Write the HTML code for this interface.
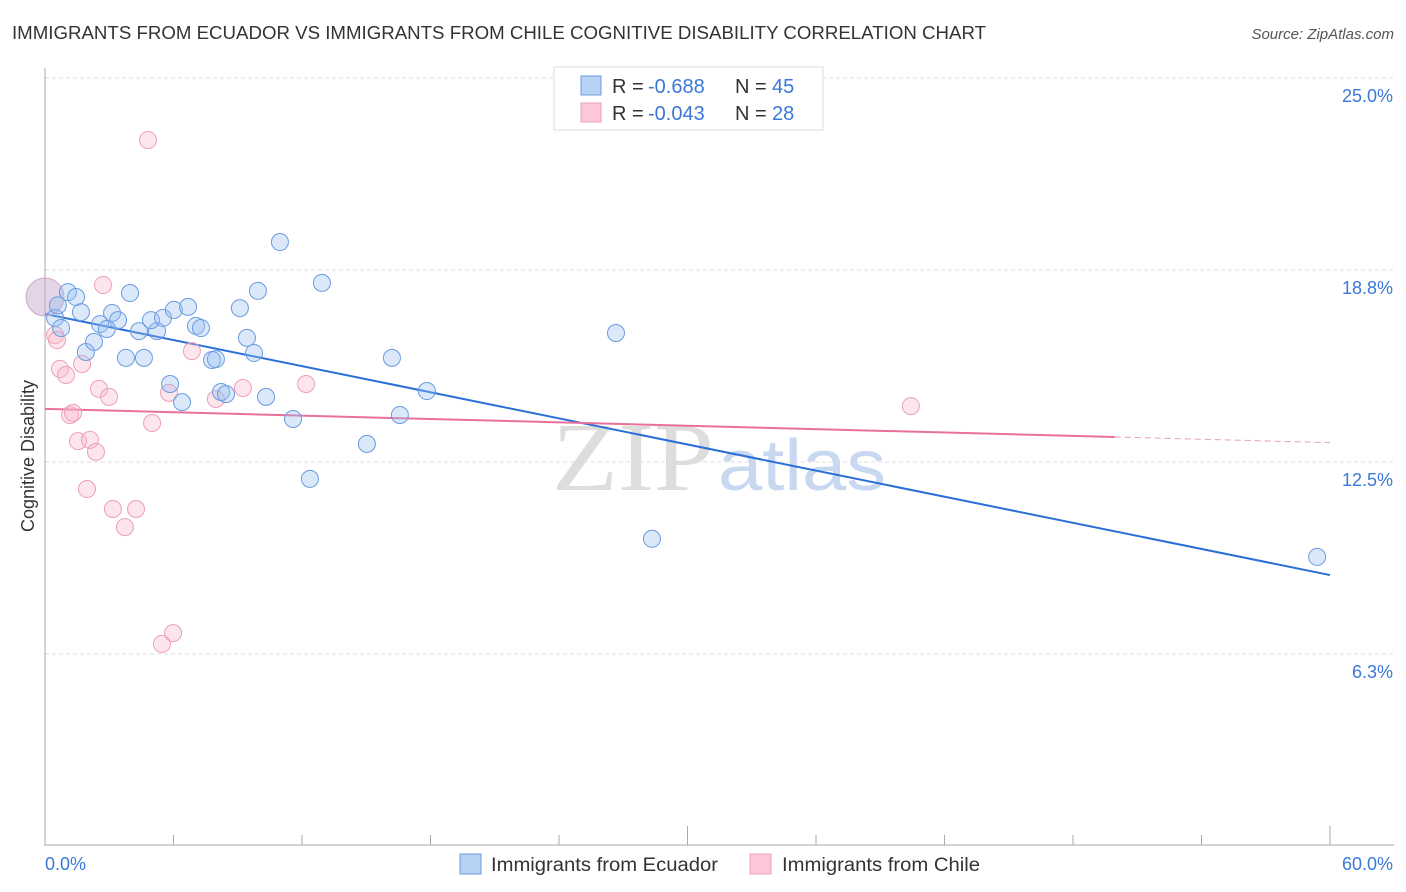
<!DOCTYPE html>
<html><head><meta charset="utf-8"><style>
body{margin:0;background:#fff;font-family:"Liberation Sans",sans-serif}
svg{display:block}
</style></head><body>
<svg id="chart" width="1406" height="892">
<text x="12" y="39" font-size="18" fill="#333" textLength="974" lengthAdjust="spacingAndGlyphs">IMMIGRANTS FROM ECUADOR VS IMMIGRANTS FROM CHILE COGNITIVE DISABILITY CORRELATION CHART</text>
<text x="1394" y="39" font-size="15" fill="#555" font-style="italic" text-anchor="end">Source: ZipAtlas.com</text>
<g><text x="552" y="490" font-size="98" fill="#ddd" font-family="Liberation Serif,serif" textLength="162" lengthAdjust="spacingAndGlyphs">ZIP</text><text x="718" y="490" font-size="72" fill="#c8d8f0" textLength="168" lengthAdjust="spacingAndGlyphs">atlas</text></g>
<g id="grid"></g><g id="axes"></g><g id="trends"></g><g id="pts"></g>
<text transform="translate(34,456) rotate(-90)" font-size="18" fill="#333" text-anchor="middle">Cognitive Disability</text>
<g>
<rect x="554" y="67" width="269" height="63" fill="#fff" stroke="#ddd"/>
<rect x="581" y="76" width="20" height="19" fill="#b8d2f5" stroke="#6a9be0"/>
<text x="612" y="93" font-size="20" fill="#333">R =</text><text x="648" y="93" font-size="20" fill="#3b78d8">-0.688</text>
<text x="735" y="93" font-size="20" fill="#333">N =</text><text x="772" y="93" font-size="20" fill="#3b78d8">45</text>
<rect x="581" y="103" width="20" height="19" fill="#fcc8d8" stroke="#eaa0b8"/>
<text x="612" y="120" font-size="20" fill="#333">R =</text><text x="648" y="120" font-size="20" fill="#3b78d8">-0.043</text>
<text x="735" y="120" font-size="20" fill="#333">N =</text><text x="772" y="120" font-size="20" fill="#3b78d8">28</text>
</g>
<g>
<rect x="460" y="854" width="21" height="20" fill="#b8d2f5" stroke="#6a9be0"/>
<text x="491" y="871" font-size="19" fill="#333" textLength="227" lengthAdjust="spacingAndGlyphs">Immigrants from Ecuador</text>
<rect x="750" y="854" width="21" height="20" fill="#fcc8d8" stroke="#eaa0b8"/>
<text x="782" y="871" font-size="19" fill="#333" textLength="198" lengthAdjust="spacingAndGlyphs">Immigrants from Chile</text>
</g>
</svg>
<script>
const yTicks=[25.0,18.8,12.5,6.3];
const yTickVals=[25,18.75,12.5,6.25];
const xTickLabels=["0.0%","60.0%"];
const ecuadorX=[1.07,1.45,0.47,0.75,1.68,3.97,3.13,3.41,2.57,2.89,4.39,5.23,4.95,5.51,6.02,6.68,7.05,7.28,9.10,9.94,10.97,12.93,9.43,9.76,7.80,7.98,3.78,4.62,1.91,2.29,5.84,6.40,8.22,8.45,10.32,11.58,12.37,15.03,16.2,16.57,17.83,26.66,28.34,59.4,0.6];
const ecuadorY=[18.03,17.87,17.19,16.86,17.38,18.0,17.35,17.12,16.99,16.83,16.76,16.76,17.12,17.19,17.45,17.55,16.93,16.86,17.51,18.07,19.66,18.33,16.54,16.05,15.82,15.85,15.89,15.89,16.08,16.41,15.04,14.45,14.78,14.71,14.62,13.9,11.95,13.09,15.89,14.03,14.81,16.7,10.0,9.41,17.6];
const chileX=[4.81,2.71,0.47,0.56,0.70,0.98,1.73,6.86,1.17,1.31,2.52,2.99,5.79,7.98,9.24,12.19,5.0,1.54,2.1,2.38,1.96,3.17,4.25,3.73,5.46,5.98,40.43];
const chileY=[22.98,18.26,16.63,16.47,15.53,15.33,15.69,16.11,14.03,14.1,14.88,14.62,14.75,14.55,14.91,15.04,13.77,13.18,13.22,12.83,11.62,10.97,10.97,10.38,6.58,6.93,14.32];
const bigX=[0],bigY=[17.87];
const ecuadorTrend=[17.32,8.82];
const chileTrend=[14.23,13.13];
const chileSolidEnd=49.95;
const NS="http://www.w3.org/2000/svg";
const X=v=>45+v*(1285/60);
const Y=v=>654-(v-6.25)*30.72;
function mk(t,a,p){const e=document.createElementNS(NS,t);for(const k in a)e.setAttribute(k,a[k]);p.appendChild(e);return e;}
const grid=document.getElementById('grid'),axes=document.getElementById('axes'),tr=document.getElementById('trends'),pts=document.getElementById('pts');
yTickVals.forEach((v,i)=>{
 const l=mk('line',{x1:45,x2:1394,y1:Y(v),y2:Y(v),stroke:'#ddd','stroke-dasharray':'4,3'},grid);
 
 
 const t=mk('text',{x:1393,y:Y(v)+24,'font-size':18,fill:'#3b78d8','text-anchor':'end'},grid);
 t.textContent=yTicks[i].toFixed(1)+'%';
 
 
});
mk('line',{x1:45,x2:45,y1:68,y2:846,stroke:'#aaa'},axes);
mk('line',{x1:45,x2:1394,y1:845,y2:845,stroke:'#aaa'},axes);
for(let i=1;i<=10;i++){const v=i*6;const tall=(i==5||i==10);
 const tk=mk('line',{x1:X(v),x2:X(v),y1:tall?826:835,y2:845,stroke:'#aaa'},axes);
 
 }
const t0=mk('text',{x:45,y:870,'font-size':18,fill:'#3b78d8'},axes);t0.textContent=xTickLabels[0];


const t1=mk('text',{x:1393,y:870,'font-size':18,fill:'#3b78d8','text-anchor':'end'},axes);t1.textContent=xTickLabels[1];


const slope=(chileTrend[1]-chileTrend[0])/60;
const bl=mk('line',{x1:X(0),y1:Y(ecuadorTrend[0]),x2:X(60),y2:Y(ecuadorTrend[1]),stroke:'#2a6fd6','stroke-width':2},tr);


const pl=mk('line',{x1:X(0),y1:Y(chileTrend[0]),x2:X(chileSolidEnd),y2:Y(chileTrend[0]+slope*chileSolidEnd),stroke:'#e8709a','stroke-width':2},tr);


const pd=mk('line',{x1:X(chileSolidEnd),y1:Y(chileTrend[0]+slope*chileSolidEnd),x2:X(60),y2:Y(chileTrend[1]),stroke:'#e8a0b8','stroke-width':1,'stroke-dasharray':'6,4'},tr);


bigX.forEach((v,i)=>{const c=mk('circle',{cx:X(v),cy:Y(bigY[i]),r:19,fill:'rgba(200,170,210,0.5)',stroke:'#d0a8c8'},pts);
 
 });
chileX.forEach((v,i)=>{const c=mk('circle',{cx:X(v),cy:Y(chileY[i]),r:8.5,fill:'rgba(248,180,200,0.35)',stroke:'#eca0b8'},pts);
 
 });
ecuadorX.forEach((v,i)=>{const c=mk('circle',{cx:X(v),cy:Y(ecuadorY[i]),r:8.5,fill:'rgba(150,190,240,0.35)',stroke:'#6a9be0'},pts);
 
 });
</script>
</body></html>
